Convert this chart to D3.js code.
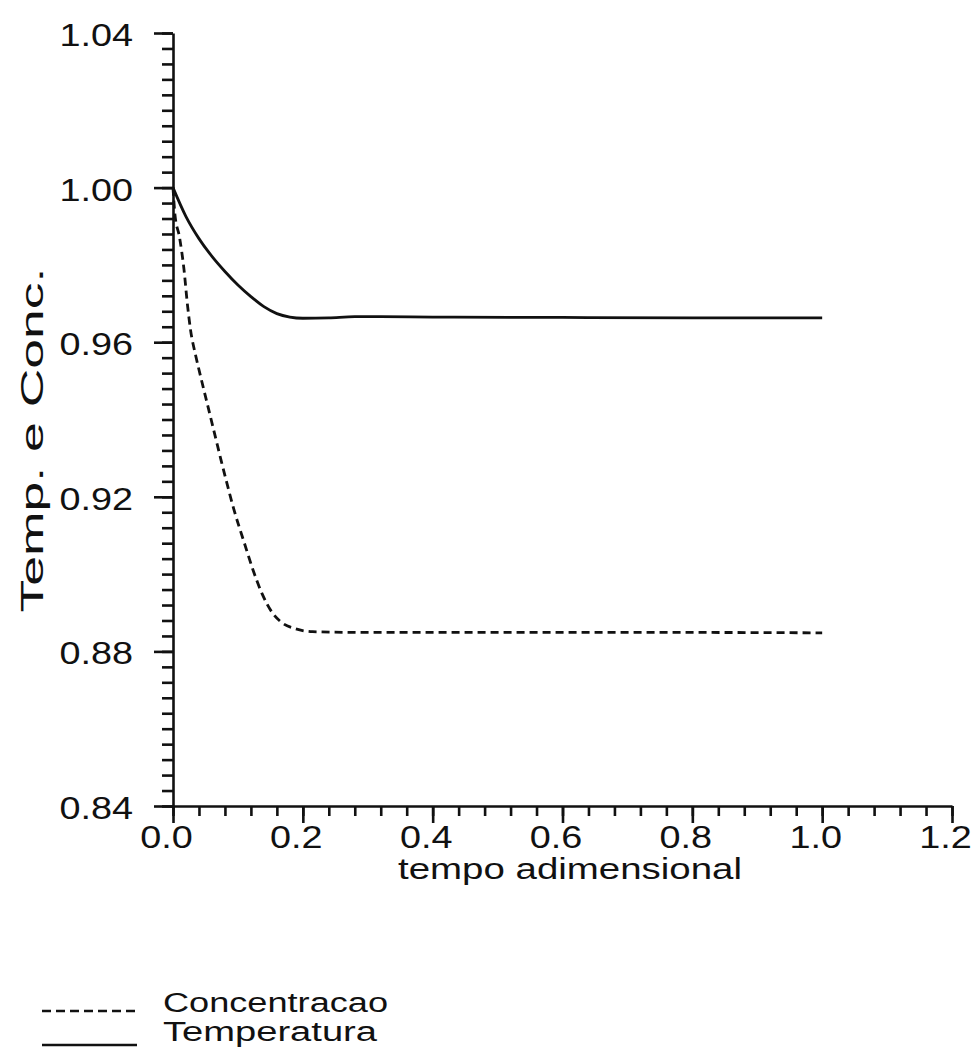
<!DOCTYPE html>
<html>
<head>
<meta charset="utf-8">
<script src="https://cdn.jsdelivr.net/npm/d3@7"></script>
<style>
  body { margin: 0; background: #fff; }
  svg { display: block; }
  text { font-family: "Liberation Sans", Arial, sans-serif; fill: #111; }
</style>
</head>
<body>
<svg id="chart" width="977" height="1055"></svg>
<script>
// valores
var tempoTemp = [0, 0.02, 0.04, 0.06, 0.08, 0.10, 0.12, 0.14, 0.16, 0.18, 0.20, 0.24, 0.28, 0.32, 0.4, 0.6, 0.8, 1.0];
var temperatura = [1.0, 0.9925, 0.9868, 0.9822, 0.9783, 0.9748, 0.9718, 0.9692, 0.9674, 0.9665, 0.9662, 0.9663, 0.9666, 0.9666, 0.9665, 0.9664, 0.9663, 0.9663];

var tempoConc = [0, 0.003, 0.010, 0.017, 0.022, 0.027, 0.035, 0.042, 0.050, 0.058, 0.066, 0.074, 0.082, 0.094, 0.110, 0.123, 0.137, 0.153, 0.168, 0.188, 0.215, 0.3, 0.5, 0.8, 1.0];
var concentracao = [1.0, 0.993, 0.9872, 0.9787, 0.9701, 0.9632, 0.9565, 0.9515, 0.9460, 0.9405, 0.9350, 0.9295, 0.9242, 0.9166, 0.9080, 0.9012, 0.8950, 0.8900, 0.8874, 0.8859, 0.8851, 0.8849, 0.8849, 0.8849, 0.8848];

var xMajor = [0.0, 0.2, 0.4, 0.6, 0.8, 1.0, 1.2];
var yMajor = [0.84, 0.88, 0.92, 0.96, 1.00, 1.04];

var legendLabels = ["Concentracao", "Temperatura"];
var xTitle = "tempo  adimensional";
var yTitle = "Temp. e Conc.";

var ink = "#111";
var labelScale = 1.22;

var svg = d3.select("#chart");

var x = d3.scaleLinear().domain([0, 1.2]).range([173, 952]);
var y = d3.scaleLinear().domain([0.84, 1.04]).range([806, 33]);

// subdivisoes: 5 por intervalo em x, 10 por intervalo em y
var xMinor = d3.range(0, 31).map(function(i) { return i * 0.04; });
var yMinor = d3.range(0, 51).map(function(i) { return 0.84 + i * 0.004; });

function styleAxis(g) {
	g.selectAll("path, line").attr("stroke", ink).attr("stroke-width", 2.6);
}

// eixo y
svg.append("g")
	.attr("transform", "translate(" + x(0) + ",0)")
	.call(d3.axisLeft(y).tickValues(yMinor).tickSize(11).tickSizeOuter(0).tickFormat(""))
	.call(styleAxis);

var yAx = svg.append("g")
	.attr("transform", "translate(" + x(0) + ",0)")
	.call(d3.axisLeft(y).tickValues(yMajor).tickSize(19).tickFormat(d3.format(".2f")))
	.call(styleAxis);
yAx.select(".domain").remove();
yAx.selectAll("text")
	.attr("font-size", 31)
	.attr("font-family", "Liberation Sans, Arial, sans-serif")
	.attr("fill", ink)
	.attr("x", -40 / labelScale)
	.attr("dy", "0.4em")
	.attr("transform", "scale(" + labelScale + ",1)");

// eixo x
svg.append("g")
	.attr("transform", "translate(0," + y(0.84) + ")")
	.call(d3.axisBottom(x).tickValues(xMinor).tickSize(10).tickSizeOuter(0).tickFormat(""))
	.call(styleAxis);

var xAx = svg.append("g")
	.attr("transform", "translate(0," + y(0.84) + ")")
	.call(d3.axisBottom(x).tickValues(xMajor).tickSize(17).tickFormat(d3.format(".1f")))
	.call(styleAxis);
xAx.select(".domain").remove();
xAx.selectAll("text")
	.attr("font-size", 31)
	.attr("font-family", "Liberation Sans, Arial, sans-serif")
	.attr("fill", ink)
	.attr("x", -7 / labelScale)
	.attr("y", 42)
	.attr("dy", null)
	.attr("transform", "scale(" + labelScale + ",1)");

// titulos
svg.append("text")
	.attr("x", 570)
	.attr("y", 879)
	.attr("text-anchor", "middle")
	.attr("font-size", 29)
	.attr("textLength", 344)
	.attr("lengthAdjust", "spacingAndGlyphs")
	.text(xTitle);

svg.append("text")
	.attr("transform", "translate(43,440) rotate(-90)")
	.attr("text-anchor", "middle")
	.attr("font-size", 31)
	.attr("textLength", 345)
	.attr("lengthAdjust", "spacingAndGlyphs")
	.text(yTitle);

// curvas
var lineT = d3.line()
	.x(function(d, i) { return x(tempoTemp[i]); })
	.y(function(d) { return y(d); })
	.curve(d3.curveMonotoneX);

var lineC = d3.line()
	.x(function(d, i) { return x(tempoConc[i]); })
	.y(function(d) { return y(d); })
	.curve(d3.curveMonotoneX);

svg.append("path")
	.datum(temperatura)
	.attr("d", lineT)
	.attr("fill", "none")
	.attr("stroke", ink)
	.attr("stroke-width", 2.8);

svg.append("path")
	.datum(concentracao)
	.attr("d", lineC)
	.attr("fill", "none")
	.attr("stroke", ink)
	.attr("stroke-width", 2.8)
	.attr("stroke-dasharray", "8,5");

// legenda
var legendY = [1011, 1045];
var legendTextY = [1012, 1041];
var legendWidth = [225, 214];
var legendDash = ["9,5", null];

legendLabels.forEach(function(lbl, i) {
	svg.append("line")
		.attr("x1", 42).attr("x2", 137)
		.attr("y1", legendY[i]).attr("y2", legendY[i])
		.attr("stroke", ink)
		.attr("stroke-width", 2.6)
		.attr("stroke-dasharray", legendDash[i]);
	svg.append("text")
		.attr("x", 163)
		.attr("y", legendTextY[i])
		.attr("font-size", 27)
		.attr("textLength", legendWidth[i])
		.attr("lengthAdjust", "spacingAndGlyphs")
		.text(lbl);
});
</script>
</body>
</html>
